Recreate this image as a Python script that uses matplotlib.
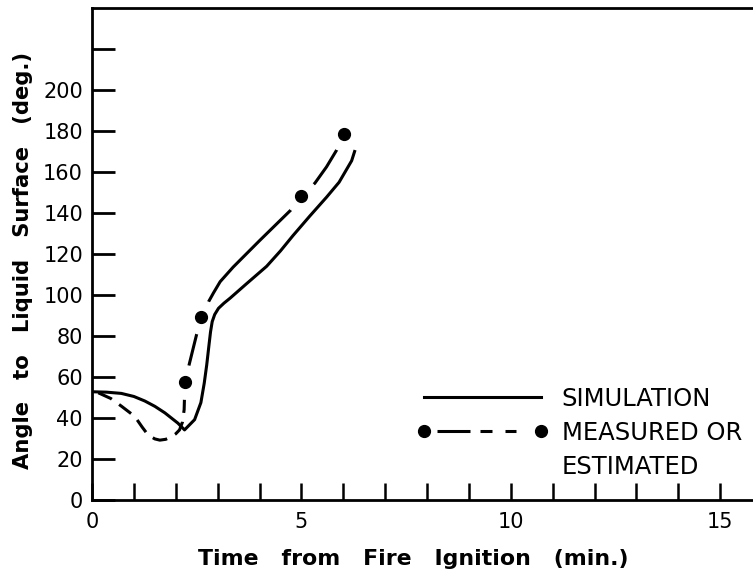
import matplotlib
matplotlib.use("Agg")
import matplotlib.pyplot as plt
from matplotlib.lines import Line2D
import numpy as np

# simulation curve (solid)
sim_x = [0.0, 0.35, 0.7, 1.0, 1.26, 1.5, 1.74, 2.05, 2.21, 2.45, 2.6, 2.68, 2.74,
         2.79, 2.83, 2.87, 2.93, 3.02, 3.15, 3.3, 3.69, 4.17, 4.5, 4.8, 5.2, 5.6,
         5.9, 6.08, 6.2, 6.27]
sim_y = [52.8, 52.6, 52.0, 50.5, 48.3, 45.7, 42.5, 37.5, 34.2, 39.2, 47.5, 57.0, 66.0,
         75.0, 82.0, 87.0, 90.5, 93.5, 96.0, 98.5, 105.5, 114.0, 121.5, 129.0, 138.5, 147.7,
         155.0, 161.3, 165.5, 170.0]

# measured or estimated curve (dashed up to first dot, then long strokes)
meas_x = [0.15, 0.45, 0.7, 1.02, 1.2, 1.34, 1.5, 1.62, 1.76, 1.89, 2.0, 2.09, 2.16, 2.2,
          2.22, 2.6, 2.75, 2.9, 3.06, 3.37, 4.0, 4.5, 4.8, 5.0, 5.32, 5.6, 5.88, 6.02]
meas_y = [52.3, 49.5, 45.8, 40.8, 35.5, 31.7, 29.8, 29.2, 29.6, 30.8, 32.3, 34.2, 38.0, 44.0,
          57.8, 89.2, 95.5, 101.0, 106.5, 113.6, 126.5, 136.5, 142.5, 148.5, 154.5, 162.5, 172.0, 178.4]

# measured points
dot_x = [2.22, 2.6, 5.0, 6.02]
dot_y = [57.8, 89.2, 148.5, 178.4]

x_major = [0, 5, 10, 15]
x_labels = ["0", "5", "10", "15"]
y_ticks = list(range(0, 240, 20))
y_labels = [str(v) for v in range(0, 220, 20)] + [""]

LW = 2.2
PX = 100 / 72.0  # pixels per point


def px_dash(seq_px):
    return [v / (PX * LW) for v in seq_px]


fig = plt.figure(figsize=(7.53, 5.74), dpi=100)
ax = fig.add_axes([92 / 753, 74 / 574, 661 / 753, 492 / 574])

split = meas_x.index(dot_x[0]) + 1
ax.plot(meas_x[:split], meas_y[:split], color="k", lw=LW,
        dashes=px_dash([15, 9]), zorder=2)
ax.plot(meas_x[split - 1:], meas_y[split - 1:], color="k", lw=LW, zorder=2,
        solid_capstyle="butt")
# white halos around the points leave the gaps in the line
ax.plot(dot_x, dot_y, linestyle="none", marker="o", ms=24, mfc="white",
        mec="white", zorder=3)
ax.plot(sim_x, sim_y, color="k", lw=LW, zorder=4)
ax.plot(dot_x, dot_y, linestyle="none", marker="o", ms=8.5, mfc="k", mec="k", zorder=5)

ax.set_xlim(0, 661 / 41.88)
ax.set_ylim(0, 240)

for s in ["left", "bottom", "top"]:
    ax.spines[s].set_linewidth(2.0)
ax.spines["right"].set_visible(False)

ax.set_xticks(x_major, x_labels)
ax.set_xticks(range(1, 16), minor=True)
ax.set_yticks(y_ticks, y_labels)
ax.tick_params(axis="x", which="both", direction="in", length=12, width=1.8,
               pad=9, labelsize=15, top=False)
ax.tick_params(axis="y", which="both", direction="in", length=16.5, width=2.0,
               pad=6.5, labelsize=15, right=False)

ax.set_xlabel("Time   from   Fire   Ignition   (min.)", fontsize=15.8,
              fontweight="bold")
ax.xaxis.set_label_coords(0.4856, -0.1)
ax.set_ylabel("Angle   to   Liquid   Surface   (deg.)", fontsize=15.2,
              fontweight="bold")
ax.yaxis.set_label_coords(-0.089, 0.486)

# legend
FS = 17.5
lw_px = PX * LW
seq = [33, 10, 12, 13, 11, 38]
h_sim = Line2D([], [], color="k", lw=LW)
h_meas = Line2D([], [], color="k", lw=LW, marker="o", ms=8.5,
                linestyle=(104 / lw_px, [v / lw_px for v in seq]))
h_blank = Line2D([], [], linestyle="none")
ax.legend([h_sim, h_meas, h_blank], ["SIMULATION", "MEASURED OR", "ESTIMATED"],
          loc="upper left", bbox_to_anchor=(0.4917, 0.2298), frameon=False,
          borderpad=0, borderaxespad=0, fontsize=FS, handlelength=5.42,
          handletextpad=0.53, labelspacing=0.41, numpoints=2)

fig.savefig("out.png", dpi=100)
